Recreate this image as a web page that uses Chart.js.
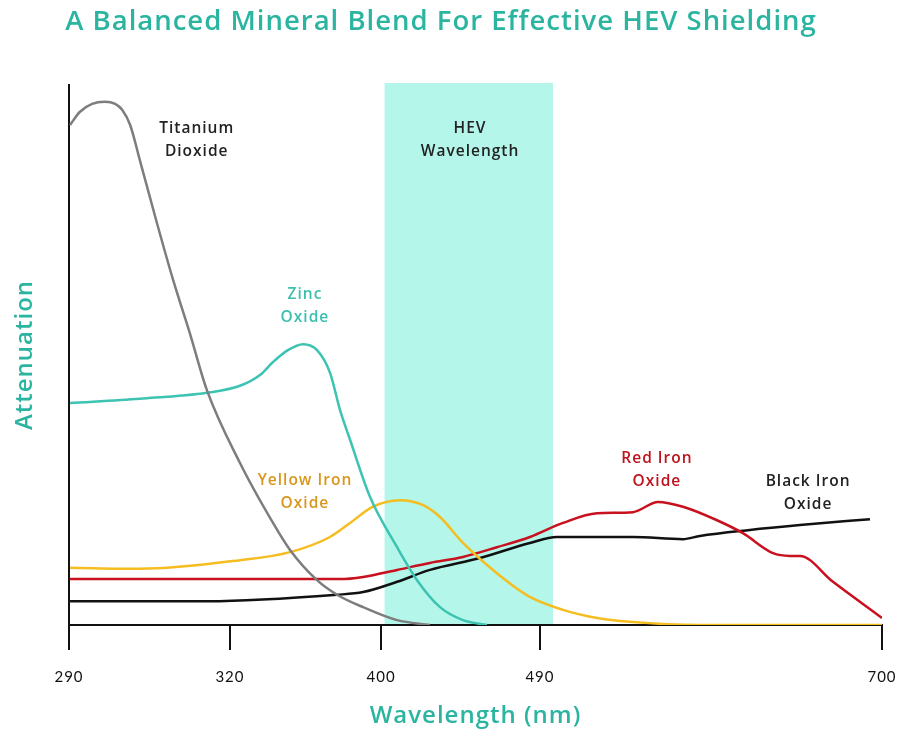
<!DOCTYPE html>
<html>
<head>
<meta charset="utf-8">
<script src="https://cdn.jsdelivr.net/npm/chart.js@4.4.0/dist/chart.umd.min.js"></script>
<style>
  html, body { margin: 0; padding: 0; background: #fff; }
  #wrap { width: 911px; height: 731px; }
</style>
</head>
<body>
<div id="wrap"><canvas id="chart1"></canvas></div>
<script>
// x axis ticks (nm) - the axis is stretched, not linear
const tickNm = [290, 320, 400, 490, 700];
const tickFrac = [0, 0.198, 0.3838, 0.5793, 1];

// HEV band (nm)
const hevBand = [402, 498];

// series: wavelength (nm) and attenuation (arbitrary 0-100)
const titaniumNm  = [290.2, 292, 294.3, 296.7, 298.6, 299.9, 301.4, 303.2, 306.4, 309.4, 312.5, 315.7, 325.3, 342.8, 351.8, 366.1, 376.7, 390.5, 409.1, 427.7];
const titaniumVal = [92.6, 95.0, 96.5, 96.9, 96.5, 95.4, 92.6, 86.1, 74.4, 63.9, 54.1, 43.5, 30.0, 18.9, 13.9, 8.3, 5.6, 3.3, 0.9, 0];

const zincNm  = [290.2, 303.2, 315.7, 325.3, 335.9, 342.8, 350.7, 358.7, 366.1, 373.0, 378.3, 383.6, 394.2, 409.1, 420.4, 433.4, 446.4, 460.0];
const zincVal = [41.1, 41.9, 43.0, 44.3, 46.3, 48.7, 50.9, 52.0, 50.9, 46.7, 39.8, 34.3, 23.7, 14.4, 8.3, 3.3, 0.9, 0];

const yellowNm  = [290.2, 303.2, 325.3, 351.8, 373.0, 383.6, 395.8, 410.8, 423.8, 433.4, 446.4, 465.6, 484.3, 504.1, 525.0, 545.3, 588.2, 700];
const yellowVal = [10.6, 10.4, 12.0, 13.5, 16.3, 18.9, 21.9, 23.1, 22.2, 20.0, 15.2, 9.6, 5.2, 2.8, 1.3, 0.6, 0, 0];

const redNm  = [290.2, 314.4, 378.3, 390.5, 409.1, 427.7, 446.4, 465.6, 484.3, 504.1, 525.0, 547.1, 562.5, 577.8, 598.7, 614.6, 633.1, 643.5, 649.6, 669.9, 700];
const redVal = [8.5, 8.5, 8.5, 8.9, 10.2, 11.5, 12.6, 14.4, 16.3, 18.9, 20.7, 20.9, 22.8, 21.9, 19.4, 17.0, 13.3, 12.8, 12.8, 8.0, 1.3];

const blackNm  = [290.2, 315.7, 376.7, 390.5, 409.1, 427.7, 456.0, 484.3, 500.4, 525.0, 547.1, 577.8, 588.2, 618.9, 649.6, 692.6];
const blackVal = [4.4, 4.4, 5.6, 6.1, 8.0, 10.2, 12.4, 15.2, 16.3, 16.3, 16.3, 15.9, 16.5, 17.6, 18.5, 19.6];

// curve labels: text lines, anchor (nm, attenuation), colour
const curveLabels = [
  { lines: ['Titanium', 'Dioxide'], nm: 313.8, val: 89.8, color: '#222' },
  { lines: ['Zinc', 'Oxide'], nm: 359.7, val: 59.1, color: '#3bbfae' },
  { lines: ['HEV', 'Wavelength'], nm: 450.4, val: 89.8, color: '#222' },
  { lines: ['Yellow Iron', 'Oxide'], nm: 359.7, val: 24.7, color: '#d9961c' },
  { lines: ['Red Iron', 'Oxide'], nm: 561.8, val: 28.6, color: '#c0121c' },
  { lines: ['Black Iron', 'Oxide'], nm: 654.6, val: 24.4, color: '#222' }
];

const teal = '#2bb5a0';
const fontFam = '"Open Sans", Lato, sans-serif';

// map a wavelength onto the stretched axis
function toPos(nm) {
  for (let i = 0; i < tickNm.length - 1; i++) {
    if (nm <= tickNm[i + 1] || i == tickNm.length - 2) {
      const t = (nm - tickNm[i]) / (tickNm[i + 1] - tickNm[i]);
      return tickFrac[i] + t * (tickFrac[i + 1] - tickFrac[i]);
    }
  }
}

function series(label, nm, val, color) {
  return {
    label: label,
    data: nm.map((w, i) => ({ x: toPos(w), y: val[i] })),
    borderColor: color,
    borderWidth: 2.5,
    pointRadius: 0,
    fill: false,
    cubicInterpolationMode: 'monotone'
  };
}

// the reference lettering is wide, so space letters out a little
const spacingPlugin = {
  id: 'spacing',
  beforeLayout(chart) { chart.ctx.letterSpacing = '1px'; },
  beforeDraw(chart) { chart.ctx.letterSpacing = '1px'; }
};

const bandPlugin = {
  id: 'band',
  beforeDatasetsDraw(chart) {
    const { ctx, chartArea, scales } = chart;
    const x1 = scales.x.getPixelForValue(toPos(hevBand[0]));
    const x2 = scales.x.getPixelForValue(toPos(hevBand[1]));
    ctx.save();
    ctx.fillStyle = 'rgb(180,246,234)';
    ctx.fillRect(x1, chartArea.top - 2, x2 - x1, chartArea.bottom - chartArea.top + 1);
    ctx.restore();
  }
};

const labelPlugin = {
  id: 'curveLabels',
  afterDatasetsDraw(chart) {
    const { ctx, scales } = chart;
    ctx.save();
    ctx.font = '600 15.5px ' + fontFam;
    ctx.textAlign = 'center';
    ctx.textBaseline = 'middle';
    curveLabels.forEach(l => {
      const x = scales.x.getPixelForValue(toPos(l.nm));
      const y = scales.y.getPixelForValue(l.val);
      ctx.fillStyle = l.color;
      l.lines.forEach((t, i) => {
        ctx.fillText(t, x, y + (i - (l.lines.length - 1) / 2) * 23);
      });
    });
    ctx.restore();
  }
};

const config = {
  type: 'line',
  data: {
    datasets: [
      series('Titanium Dioxide', titaniumNm, titaniumVal, '#7d7d7d'),
      series('Zinc Oxide', zincNm, zincVal, '#3cc3b2'),
      series('Yellow Iron Oxide', yellowNm, yellowVal, '#f5bd1f'),
      series('Red Iron Oxide', redNm, redVal, '#c8101e'),
      series('Black Iron Oxide', blackNm, blackVal, '#111111')
    ]
  },
  options: {
    responsive: true,
    maintainAspectRatio: false,
    animation: false,
    devicePixelRatio: 1,
    layout: { padding: { left: 0, right: 29, top: 0, bottom: 0 } },
    plugins: {
      legend: { display: false },
      tooltip: { enabled: false },
      title: {
        display: true,
        text: 'A Balanced Mineral Blend For Effective HEV Shielding',
        color: teal,
        font: { family: fontFam, size: 27.5, weight: '600' },
        padding: { top: 6, bottom: 46 }
      }
    },
    scales: {
      x: {
        type: 'linear',
        min: 0,
        max: 1,
        afterBuildTicks: s => { s.ticks = tickFrac.map(v => ({ value: v })); },
        afterFit: s => { s.height = 106; s.paddingLeft = 0; s.paddingRight = 0; },
        ticks: {
          callback: (v, i) => tickNm[i],
          color: '#111',
          font: { family: 'Lato, sans-serif', size: 15 },
          padding: 18,
          maxRotation: 0,
          autoSkip: false
        },
        grid: { drawOnChartArea: false, drawTicks: true, tickLength: 25, color: '#111', lineWidth: 2 },
        border: { display: true, color: '#111', width: 2 },
        title: {
          display: true,
          text: 'Wavelength (nm)',
          color: teal,
          font: { family: fontFam, size: 24, weight: '600' },
          padding: { top: 0, bottom: 0 }
        }
      },
      y: {
        min: 0,
        max: 100,
        afterFit: s => { s.width = 69; },
        ticks: { display: false },
        grid: { display: false },
        border: { display: true, color: '#111', width: 2 },
        title: {
          display: true,
          text: 'Attenuation',
          color: teal,
          font: { family: fontFam, size: 24, weight: '600' },
          padding: { top: 11, bottom: 0 }
        }
      }
    }
  },
  plugins: [spacingPlugin, bandPlugin, labelPlugin]
};

const myChart = new Chart(document.getElementById('chart1'), config);
</script>
</body>
</html>
